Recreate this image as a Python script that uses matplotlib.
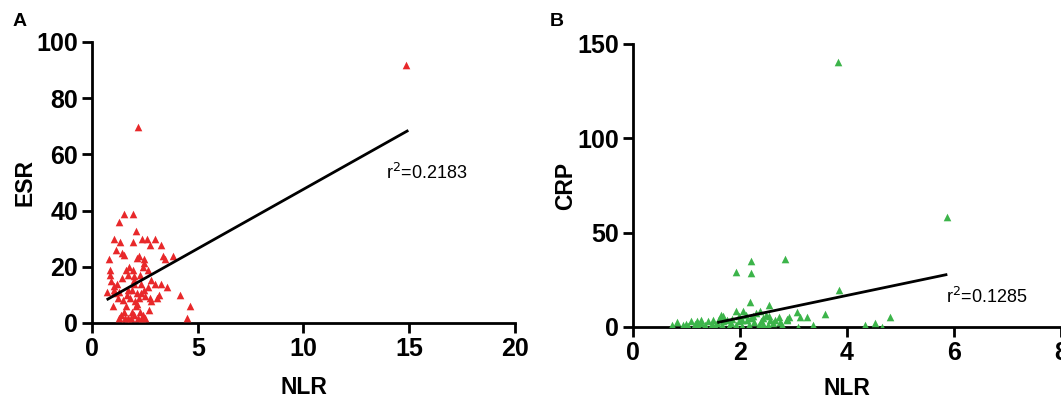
import matplotlib
matplotlib.use("Agg")
from matplotlib import pyplot as plt
import numpy as np

plt.rcParams['font.family'] = ['Liberation Sans', 'DejaVu Sans']

# panel A: NLR vs ESR
nlr_a = [14.83, 2.19, 1.51, 1.95, 1.29, 2.10, 1.05, 1.33, 1.94, 2.38, 2.59, 2.97, 2.75, 3.24,
         0.79, 1.13, 1.41, 1.49, 2.14, 2.22, 2.44, 3.35, 3.43, 3.83, 0.84, 0.87, 0.90, 1.60,
         1.76, 1.95, 2.40, 2.63, 1.68, 1.98, 2.25, 0.70, 1.02, 1.19, 1.98, 2.30, 2.46, 2.98,
         3.25, 3.57, 0.98, 1.21, 1.65, 1.78, 2.03, 2.14, 2.49, 2.75, 3.08, 2.81, 3.17, 4.14,
         4.63, 4.49, 1.29, 1.54, 1.68, 1.86, 2.16, 2.35, 2.52, 1.49, 1.89, 2.29, 1.63, 2.10,
         2.71, 1.35, 1.98, 2.43, 1.06, 1.30, 1.70, 2.11, 1.90, 2.33, 2.65, 1.43, 1.98, 2.78,
         2.48, 1.02, 1.48, 2.21]
esr_a = [91.7, 69.8, 38.9, 38.9, 35.9, 32.9, 29.8, 28.9, 28.9, 29.8, 29.8, 29.8, 27.8, 27.8,
         22.8, 25.8, 24.9, 24.1, 23.2, 23.9, 22.8, 23.9, 22.8, 23.9, 18.9, 16.9, 15.0, 18.9,
         19.9, 18.9, 19.9, 18.9, 16.9, 16.6, 16.9, 10.9, 13.0, 13.8, 13.8, 13.8, 11.8, 13.8,
         13.8, 12.9, 6.2, 8.9, 9.8, 8.9, 7.8, 6.9, 9.5, 8.9, 8.9, 7.8, 9.8, 9.8,
         5.9, 1.8, 1.8, 1.8, 1.8, 1.8, 1.8, 1.8, 1.8, 3.8, 3.8, 3.8, 5.9, 5.9,
         4.7, 2.7, 2.7, 2.7, 11.8, 10.9, 11.8, 10.7, 11.8, 10.7, 12.8, 16.0, 15.4, 15.4,
         21.3, 10.7, 8.3, 8.9]
line_a_x = [0.75, 14.9]
line_a_y = [8.5, 68.3]
r2_a = "r$^2$=0.2183"

# panel B: NLR vs CRP
nlr_b = [3.83, 5.86, 2.85, 2.20, 1.92, 2.21, 3.85, 2.18, 2.54, 1.92, 2.05, 2.37, 3.07, 3.59,
         4.80, 3.25, 3.13, 2.91, 2.73, 2.88, 3.36, 3.09, 4.33, 4.52, 4.66, 0.72, 0.83, 0.93,
         0.99, 1.09, 1.19, 1.28, 1.41, 1.50, 1.60, 1.65, 1.69, 1.76, 1.84, 1.98, 2.11, 2.24,
         2.30, 2.43, 2.49, 2.57, 2.62, 2.78, 2.52, 2.36, 2.17, 2.04, 1.92, 1.79, 1.66, 1.53,
         1.34, 1.21, 1.02, 1.98, 2.14, 2.27, 2.40, 1.57, 1.69, 1.85, 2.43, 2.65, 2.88, 2.20,
         2.04, 1.47, 1.28, 1.15, 2.55, 2.75]
crp_b = [140.5, 58.5, 36.2, 34.8, 29.3, 28.6, 19.6, 13.1, 11.8, 8.5, 8.5, 8.5, 7.9, 6.7,
         5.5, 5.5, 5.5, 5.5, 5.5, 4.2, 1.2, 0.0, 1.2, 2.1, 0.0, 1.2, 2.7, 1.2,
         1.8, 3.0, 3.0, 3.9, 3.0, 3.5, 4.2, 6.5, 5.7, 3.5, 2.1, 5.7, 6.5, 5.7,
         7.4, 4.8, 6.5, 3.9, 2.1, 1.2, 1.2, 1.2, 1.2, 0.7, 1.2, 0.7, 1.2, 0.7,
         1.2, 0.7, 0.7, 3.0, 3.5, 2.5, 3.0, 2.1, 3.0, 4.2, 1.8, 3.9, 3.5, 4.8,
         3.9, 1.8, 2.1, 1.8, 6.0, 2.5]
line_b_x = [1.6, 5.85]
line_b_y = [2.5, 27.7]
r2_b = "r$^2$=0.1285"

fig = plt.figure(figsize=(10.61, 3.99), dpi=100)
axA = fig.add_axes([0.0867, 0.1905, 0.3987, 0.7043])
axB = fig.add_axes([0.5966, 0.1805, 0.4034, 0.7093])


def style(ax):
    for s in ['top', 'right']:
        ax.spines[s].set_visible(False)
    for s in ['left', 'bottom']:
        ax.spines[s].set_linewidth(2.0)
    ax.tick_params(width=2.0, length=7, labelsize=18, pad=3)
    for lab in ax.get_xticklabels() + ax.get_yticklabels():
        lab.set_fontweight('bold')


axA.scatter(nlr_a, esr_a, marker='^', s=30, color='#e8282a', linewidths=0, zorder=3)
axA.plot(line_a_x, line_a_y, color='black', lw=2.0, zorder=4)
axA.text(13.9, 53.5, r2_a, fontsize=13, va='center', ha='left')
axA.set_xlim(0, 20)
axA.set_ylim(0, 100)
axA.set_xticks([0, 5, 10, 15, 20])
axA.set_yticks([0, 20, 40, 60, 80, 100])
style(axA)
axA.set_xlabel('NLR', fontsize=16.5, fontweight='bold', labelpad=11)
axA.set_ylabel('ESR', fontsize=16.5, fontweight='bold', labelpad=0)

axB.scatter(nlr_b, crp_b, marker='^', s=30, color='#3cb44a', linewidths=0, zorder=3)
axB.plot(line_b_x, line_b_y, color='black', lw=2.0, zorder=4)
axB.text(5.85, 16.0, r2_b, fontsize=13, va='center', ha='left')
axB.set_xlim(0, 8)
axB.set_ylim(0, 150)
axB.set_xticks([0, 2, 4, 6, 8])
axB.set_yticks([0, 50, 100, 150])
style(axB)
axB.set_xlabel('NLR', fontsize=16.5, fontweight='bold', labelpad=9)
axB.set_ylabel('CRP', fontsize=16.5, fontweight='bold', labelpad=0)
for ax in (axA, axB):
    ax.patch.set_alpha(0)
    for sp in ax.spines.values():
        sp.set_clip_on(False)

fig.text(20 / 1061, 1 - 22 / 399, 'A', fontsize=14, fontweight='bold', va='center', ha='center')
fig.text(557 / 1061, 1 - 22 / 399, 'B', fontsize=14, fontweight='bold', va='center', ha='center')

fig.savefig('out.png', dpi=100)
